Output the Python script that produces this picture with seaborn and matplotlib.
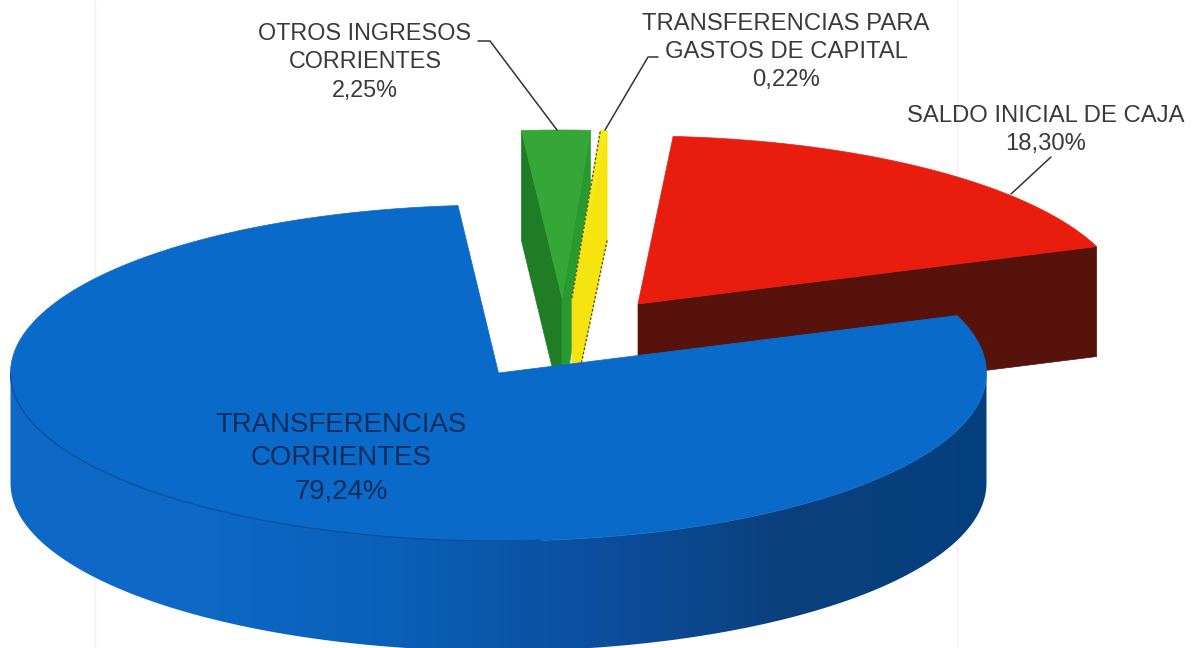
import numpy as np
import seaborn as sns
import matplotlib.pyplot as plt
from matplotlib.colors import ListedColormap
from matplotlib.patches import Polygon

# porcentajes
categorias = ["SALDO INICIAL DE CAJA", "TRANSFERENCIAS PARA\nGASTOS DE CAPITAL", "OTROS INGRESOS\nCORRIENTES", "TRANSFERENCIAS\nCORRIENTES"]
valores = [18.30, 0.22, 2.25, 79.24]
etiquetas_pct = ["18,30%", "0,22%", "2,25%", "79,24%"]

# geometria del pastel 3D (en pixeles de la imagen)
ANGULO_INICIO = 20.0
RX, RY, ALTO = 488, 168, 110
centro_rojo = (638, 304)
centro_amarillo = (572, 298)
centro_verde = (562, 298)
centro_azul = (498.5, 373)

sns.set_theme(style="white")
plt.rcParams["font.family"] = ["Liberation Sans", "DejaVu Sans"]

fig = plt.figure(figsize=(11.99, 6.48), dpi=100)
ax = fig.add_axes([0, 0, 1, 1])
ax.axis("off")

# rayas tenues del escaneo
ax.axvline(95, color="#f1f1f1", lw=1, zorder=0)
ax.axvline(957, color="#f1f1f1", lw=1, zorder=0)

bordes = ANGULO_INICIO + np.concatenate([[0], np.cumsum(valores)]) * 360 / sum(valores)


def arco(centro, a0, a1, n=200):
    t = np.radians(np.linspace(a0, a1, n))
    return np.column_stack([centro[0] + RX * np.cos(t), centro[1] - RY * np.sin(t)])


def cara(centro, a0, a1, color, z):
    pts = np.vstack([[centro], arco(centro, a0, a1)])
    ax.add_patch(Polygon(pts, closed=True, fc=color, ec=color, lw=0.5, zorder=z))


def lado_interno(centro, angulo, color, z):
    p = arco(centro, angulo, angulo, 1)[0]
    pts = [centro, p, (p[0], p[1] + ALTO), (centro[0], centro[1] + ALTO)]
    ax.add_patch(Polygon(pts, closed=True, fc=color, ec=color, lw=0.5, zorder=z))


# rojo
lado_interno(centro_rojo, bordes[0], "#57120c", 1)
cara(centro_rojo, bordes[0], bordes[1], "#e81d0d", 2)

# verde
lado_interno(centro_verde, bordes[3], "#1f7d25", 3)
lado_interno(centro_verde, bordes[2], "#2a9a30", 3)
cara(centro_verde, bordes[2], bordes[3], "#35a637", 4)

# amarillo, con el borde punteado del escaneo
lado_interno(centro_amarillo, bordes[1], "#f5e40f", 5)
cara(centro_amarillo, bordes[1], bordes[2], "#f7e817", 6)
p_izq = arco(centro_amarillo, bordes[2], bordes[2], 1)[0]
p_der = arco(centro_amarillo, bordes[1], bordes[1], 1)[0]
ax.plot([centro_amarillo[0], p_izq[0]], [centro_amarillo[1], p_izq[1]], color="#4a4a20", lw=0.9, ls=(0, (2, 1.5)), zorder=6)
ax.plot([p_der[0], centro_amarillo[0]], [p_der[1] + ALTO, centro_amarillo[1] + ALTO], color="#4a4a20", lw=0.9, ls=(0, (2, 1.5)), zorder=6)

# azul: costado con degradado de izquierda a derecha
frente = arco(centro_azul, 180, 360)
costado = Polygon(np.vstack([frente, (frente + [0, ALTO])[::-1]]), closed=True, fc="none", ec="none", transform=ax.transData)
ax.add_patch(costado)
paleta = sns.blend_palette(["#0d68c6", "#0d68c6", "#0a5fb8", "#0b4f9f", "#0b3f7c", "#04407e"], 256)
degradado = ax.imshow(np.linspace(0, 1, 256)[None, :], cmap=ListedColormap(paleta), extent=(10, 987, 660, 370), aspect="auto", zorder=7)
degradado.set_clip_path(costado)
cara(centro_azul, bordes[3], bordes[4], "#0a6aca", 8)
ax.plot(*arco(centro_azul, 180, 275).T, color="#0a4f9c", lw=0.9, zorder=9)

ax.set_xlim(0, 1199)
ax.set_ylim(648, 0)

# lineas guia
guias = [
    ([478, 490, 557], [41, 41, 130]),
    ([658, 648, 605], [57, 57, 130]),
    ([1051, 1011], [157, 194]),
]
for xs, ys in guias:
    ax.plot(xs, ys, color="#333333", lw=1.1, zorder=10)

gris = "#3a3a3a"
ax.text(1046, 130, categorias[0] + "\n" + etiquetas_pct[0], ha="center", va="center", fontsize=17.2, color=gris, linespacing=1.34, zorder=11)
ax.text(786, 52, categorias[1] + "\n" + etiquetas_pct[1], ha="center", va="center", fontsize=17.2, color=gris, linespacing=1.36, zorder=11)
ax.text(365, 62, categorias[2] + "\n" + etiquetas_pct[2], ha="center", va="center", fontsize=16.8, color=gris, linespacing=1.33, zorder=11)
ax.text(341, 458, categorias[3] + "\n" + etiquetas_pct[3], ha="center", va="center", fontsize=19.9, color="#0e2c5c", linespacing=1.35, zorder=11)

fig.savefig("out.png", dpi=100)
plt.close(fig)
